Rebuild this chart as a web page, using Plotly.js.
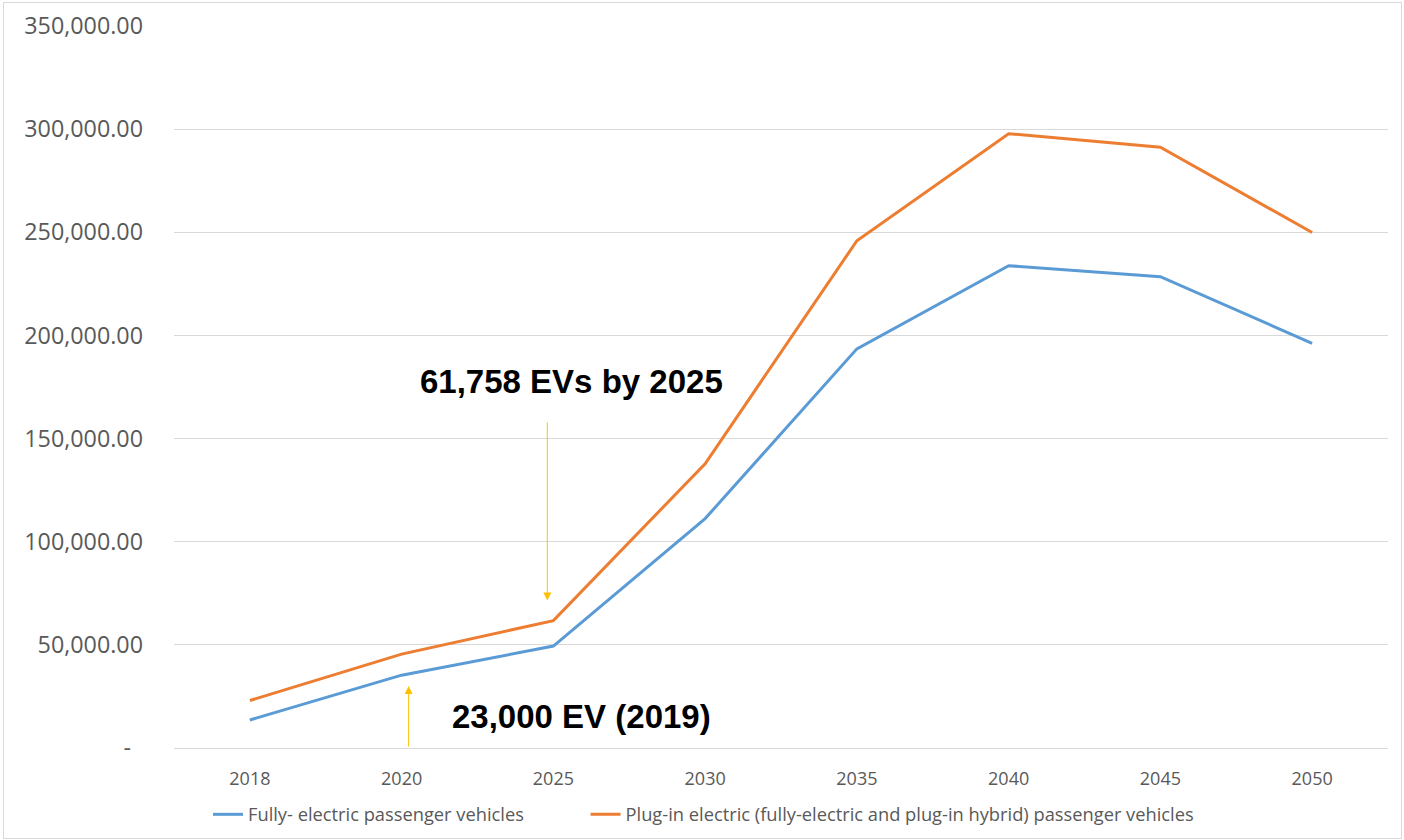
<!DOCTYPE html>
<html>
<head>
<meta charset="utf-8">
<script src="https://cdn.plot.ly/plotly-3.0.1.min.js"></script>
<style>
  html, body { margin: 0; padding: 0; background: #fff; }
  #chart { width: 1404px; height: 840px; }
  #frame { position: absolute; left: 3px; top: 2px; width: 1397px; height: 835px; border: 1px solid #d9d9d9; pointer-events: none; }
</style>
</head>
<body>
<div id="chart"></div>
<div id="frame"></div>
<script>
const years = ['2018', '2020', '2025', '2030', '2035', '2040', '2045', '2050'];
const fullyElectric = [13600, 35300, 49400, 111200, 193500, 233800, 228500, 196200];
const plugInElectric = [23000, 45500, 61758, 137800, 245900, 297800, 291200, 249900];
const seriesNames = ['Fully- electric passenger vehicles', 'Plug-in electric (fully-electric and plug-in hybrid) passenger vehicles'];
const yTickVals = [0, 50000, 100000, 150000, 200000, 250000, 300000, 350000];
const yTickText = ['-\u00a0\u00a0', '50,000.00', '100,000.00', '150,000.00', '200,000.00', '250,000.00', '300,000.00', '350,000.00'];
const noteTexts = ['61,758 EVs by 2025', '23,000 EV (2019)'];

const tickFont = { family: 'Open Sans, sans-serif', color: '#595959' };
const legendFont = { family: 'Open Sans, sans-serif', size: 18.3, color: '#595959' };

const traces = [
  { x: years, y: fullyElectric, name: seriesNames[0], type: 'scatter', mode: 'lines',
    line: { color: '#5B9BD5', width: 3 }, legend: 'legend' },
  { x: years, y: plugInElectric, name: seriesNames[1], type: 'scatter', mode: 'lines',
    line: { color: '#ED7D31', width: 3 }, legend: 'legend2' }
];

const layout = {
  width: 1404, height: 840,
  margin: { l: 174, r: 16, t: 26, b: 92, autoexpand: false },
  paper_bgcolor: '#fff', plot_bgcolor: '#fff',
  showlegend: true,
  xaxis: {
    type: 'category', range: [-0.5, 7.5],
    showgrid: false, zeroline: false,
    showline: true, linecolor: '#d9d9d9', linewidth: 1,
    ticks: '', ticklabelstandoff: 14,
    tickfont: Object.assign({ size: 18 }, tickFont),
    fixedrange: true
  },
  yaxis: {
    range: [0, 350000],
    tickvals: yTickVals, ticktext: yTickText,
    showgrid: true, gridcolor: '#d9d9d9', gridwidth: 1,
    zeroline: false, showline: false,
    ticks: '', ticklabelstandoff: 30,
    tickfont: Object.assign({ size: 23.3 }, tickFont),
    fixedrange: true
  },
  legend: {
    orientation: 'h', x: 0.028, xanchor: 'left', y: -0.092, yanchor: 'middle',
    font: legendFont, bgcolor: 'rgba(0,0,0,0)'
  },
  legend2: {
    orientation: 'h', x: 0.339, xanchor: 'left', y: -0.092, yanchor: 'middle',
    font: legendFont, bgcolor: 'rgba(0,0,0,0)'
  },
  annotations: [
    { xref: 'x', yref: 'y', x: 2.118, y: 177500, text: '<b>' + noteTexts[0] + '</b>', showarrow: false,
      font: { family: 'Liberation Sans, Arial, sans-serif', size: 33, color: '#000' } },
    { xref: 'x', yref: 'y', x: 2.184, y: 15500, text: '<b>' + noteTexts[1] + '</b>', showarrow: false,
      font: { family: 'Liberation Sans, Arial, sans-serif', size: 33, color: '#000' } },
    { xref: 'x', yref: 'y', x: 1.96, y: 71500, axref: 'x', ayref: 'y', ax: 1.96, ay: 158500,
      text: '', showarrow: true, arrowhead: 2, arrowsize: 1.6, arrowwidth: 1, arrowcolor: '#FFC000', standoff: 0 },
    { xref: 'x', yref: 'y', x: 1.046, y: 30000, axref: 'x', ayref: 'y', ax: 1.046, ay: 0,
      text: '', showarrow: true, arrowhead: 2, arrowsize: 1.6, arrowwidth: 1, arrowcolor: '#FFC000', standoff: 0 }
  ]
};

Plotly.newPlot('chart', traces, layout, { displayModeBar: false, staticPlot: true });
</script>
</body>
</html>
